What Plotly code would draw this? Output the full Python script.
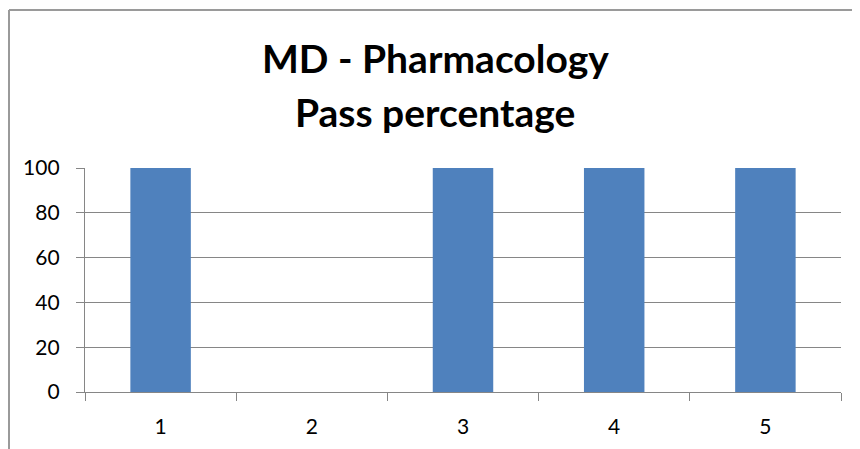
import plotly.graph_objects as go

categories = ["1", "2", "3", "4", "5"]
pass_pct = [100, 0, 100, 100, 100]
y_ticks = [0, 20, 40, 60, 80, 100]
title_lines = ["MD - Pharmacology", "Pass percentage"]

# page body has an 8px default margin, so the figure is offset by 8px
OFF = 8
W, H = 860 - OFF, 449 - OFF
L, R, T, B = 85 - OFF, 19, 168 - OFF, 57
pw, ph = W - L - R, H - T - B

def px_x(px):
    return (px - OFF - L) / pw

def px_y(py):
    return (H - B - (py - OFF)) / ph

fig = go.Figure(go.Bar(x=categories, y=pass_pct, marker=dict(color="#4F81BD", line=dict(width=0))))

font_family = "Lato, 'Open Sans', sans-serif"
fig.update_layout(
    width=W, height=H,
    margin=dict(l=L, r=R, t=T, b=B),
    paper_bgcolor="white", plot_bgcolor="white",
    bargap=0.6,
    showlegend=False,
    font=dict(family=font_family, size=22, color="black"),
)
fig.update_xaxes(
    type="category",
    tickson="boundaries",
    ticks="outside", ticklen=8, tickwidth=1.4, tickcolor="#868686",
    showline=True, linecolor="#868686", linewidth=1.4,
    showgrid=False,
    tickfont=dict(size=21),
    ticklabelstandoff=16,
)
fig.update_yaxes(
    range=[0, 100],
    tickvals=y_ticks,
    ticks="outside", ticklen=8, tickwidth=1.4, tickcolor="#868686",
    showline=True, linecolor="#868686", linewidth=1.4,
    showgrid=True, gridcolor="#868686", gridwidth=1.4,
    zeroline=False,
    tickfont=dict(size=21),
    ticklabelstandoff=12,
)

# Title lines
fig.add_annotation(text="<b>%s</b>" % title_lines[0], xref="paper", yref="paper",
                   x=px_x(435), y=px_y(58), xanchor="center", yanchor="middle",
                   showarrow=False, font=dict(size=39, family=font_family, color="black"))
fig.add_annotation(text="<b>%s</b>" % title_lines[1], xref="paper", yref="paper",
                   x=px_x(435), y=px_y(112), xanchor="center", yanchor="middle",
                   showarrow=False, font=dict(size=39, family=font_family, color="black"))

# Outer chart border (top and left edges visible)
fig.add_shape(type="line", xref="paper", yref="paper",
              x0=px_x(9), y0=px_y(10), x1=px_x(880), y1=px_y(10),
              line=dict(color="#9a9a9a", width=2))
fig.add_shape(type="line", xref="paper", yref="paper",
              x0=px_x(9), y0=px_y(10), x1=px_x(9), y1=px_y(470),
              line=dict(color="#9a9a9a", width=2))

fig.write_html("out.html")
